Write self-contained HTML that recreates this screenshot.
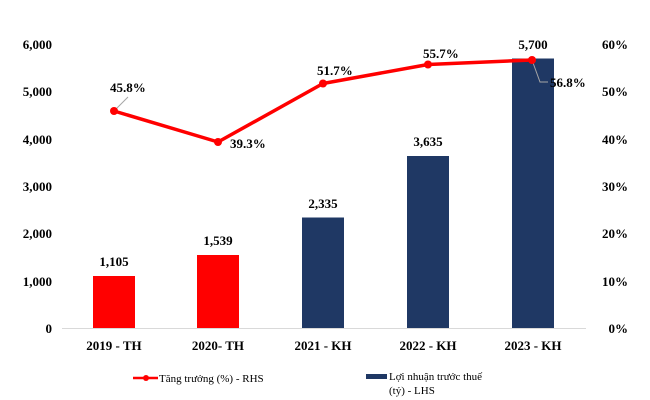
<!DOCTYPE html>
<html><head><meta charset="utf-8"><style>body{margin:0;background:#fff}svg{display:block}text{font-family:"Liberation Serif",serif;font-weight:bold;font-size:13px;fill:#000}</style></head>
<body><svg width="650" height="400" viewBox="0 0 650 400">
<g text-anchor="end">
<text x="52" y="49">6,000</text><text x="52" y="96">5,000</text><text x="52" y="144">4,000</text><text x="52" y="191">3,000</text><text x="52" y="238">2,000</text><text x="52" y="286">1,000</text><text x="52" y="333">0</text>
</g>
<g text-anchor="end">
<text x="628" y="49">60%</text><text x="628" y="96">50%</text><text x="628" y="144">40%</text><text x="628" y="191">30%</text><text x="628" y="238">20%</text><text x="628" y="286">10%</text><text x="628" y="333">0%</text>
</g>
<line x1="62" y1="328.5" x2="586" y2="328.5" stroke="#d9d9d9"/>
<rect x="93" y="276" width="42" height="52" fill="#ff0000"/>
<rect x="197" y="255" width="42" height="73" fill="#ff0000"/>
<rect x="302" y="217.5" width="42" height="110.5" fill="#1f3864"/>
<rect x="407" y="156" width="42" height="172" fill="#1f3864"/>
<rect x="512" y="58.5" width="42" height="269.5" fill="#1f3864"/>
<g text-anchor="middle">
<text x="114" y="266">1,105</text><text x="218" y="245">1,539</text><text x="323" y="208">2,335</text><text x="428" y="146">3,635</text><text x="533" y="49">5,700</text>
</g>
<line x1="114" y1="111" x2="128" y2="97" stroke="#a6a6a6"/>
<polyline points="532,60 540,82 548,82" fill="none" stroke="#a6a6a6"/>
<polyline points="114,111 218,142 323,83.5 428,64.5 532,60" fill="none" stroke="#ff0000" stroke-width="3.5" stroke-linejoin="round"/>
<g fill="#ff0000"><circle cx="114" cy="111" r="4"/><circle cx="218" cy="142" r="4"/><circle cx="323" cy="83.5" r="4"/><circle cx="428" cy="64.5" r="4"/><circle cx="532" cy="60" r="4"/></g>
<text x="110" y="92">45.8%</text>
<text x="230" y="148">39.3%</text>
<text x="317" y="75">51.7%</text>
<text x="423" y="58">55.7%</text>
<text x="550" y="87">56.8%</text>
<g text-anchor="middle">
<text x="114" y="350">2019 - TH</text><text x="218" y="350">2020- TH</text><text x="323" y="350">2021 - KH</text><text x="428" y="350">2022 - KH</text><text x="533" y="350">2023 - KH</text>
</g>
<line x1="133" y1="378" x2="158" y2="378" stroke="#ff0000" stroke-width="2.5"/><circle cx="146" cy="378" r="3" fill="#ff0000"/>
<text x="159" y="382" style="font-weight:normal;font-size:11px">Tăng trưởng (%) - RHS</text>
<rect x="366" y="374" width="21" height="5" fill="#1f3864"/>
<text x="389" y="380" style="font-weight:normal;font-size:11px">Lợi nhuận trước thuế</text>
<text x="389" y="394" style="font-weight:normal;font-size:11px">(tỷ) - LHS</text>
</svg></body></html>
